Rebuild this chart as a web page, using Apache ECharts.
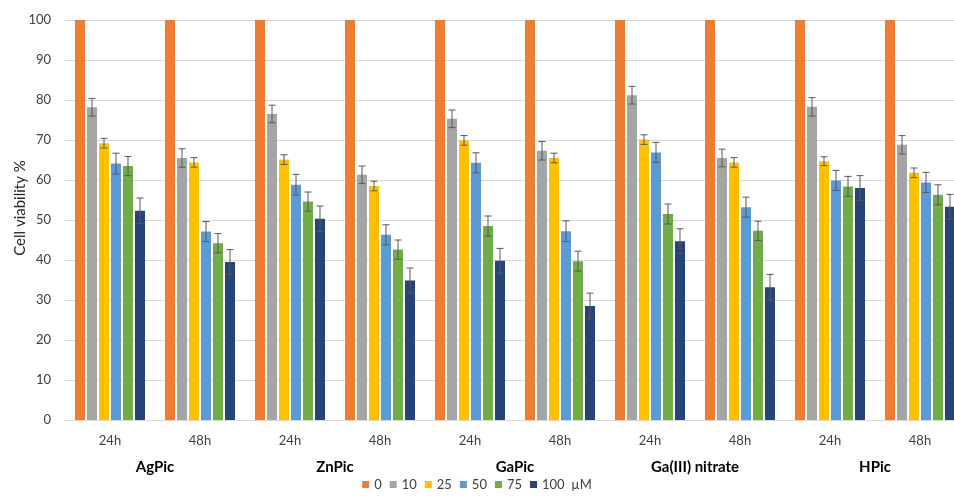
<!DOCTYPE html>
<html>
<head>
<meta charset="utf-8">
<script src="https://cdn.jsdelivr.net/npm/echarts@6/dist/echarts.min.js"></script>
<style>html,body{margin:0;padding:0;background:#fff}#c{width:954px;height:499px}</style>
</head>
<body>
<div id="c"></div>
<script>
// ---- data ----
const timeLabels = ['24h','48h','24h','48h','24h','48h','24h','48h','24h','48h'];
const compounds = ['AgPic','ZnPic','GaPic','Ga(III) nitrate','HPic'];
const seriesNames = ['0','10','25','50','75','100'];
const unitLabel = 'µM';
const yTicks = [0,10,20,30,40,50,60,70,80,90,100];

const v0   = [100,100,100,100,100,100,100,100,100,100];
const v10  = [78.2,65.5,76.5,61.3,75.3,67.3,81.2,65.5,78.3,68.8];
const v25  = [69.2,64.4,65.1,58.5,69.9,65.5,70.1,64.4,64.7,61.8];
const v50  = [64.1,47.1,58.8,46.3,64.3,47.2,66.9,53.2,59.9,59.4];
const v75  = [63.5,44.2,54.6,42.6,48.5,39.7,51.5,47.3,58.4,56.3];
const v100 = [52.3,39.5,50.3,34.9,39.8,28.5,44.7,33.2,58.0,53.3];

const e0   = [0,0,0,0,0,0,0,0,0,0];
const e10  = [2.2,2.3,2.2,2.2,2.2,2.3,2.2,2.2,2.3,2.3];
const e25  = [1.2,1.2,1.2,1.2,1.2,1.2,1.2,1.2,1.1,1.2];
const e50  = [2.6,2.5,2.6,2.5,2.5,2.6,2.5,2.5,2.5,2.5];
const e75  = [2.4,2.4,2.4,2.4,2.5,2.5,2.5,2.4,2.5,2.5];
const e100 = [3.2,3.1,3.2,3.1,3.1,3.2,3.1,3.2,3.1,3.1];

const values = [v0,v10,v25,v50,v75,v100];
const errors = [e0,e10,e25,e50,e75,e100];
const colors = ['#ED7D31','#A5A5A5','#FFC000','#5B9BD5','#70AD47','#264478'];

const FONT = 'Lato, "Open Sans", sans-serif';
const BAR_W = 10, BAR_GAP = 2;

const chart = echarts.init(document.getElementById('c'), null, {renderer:'canvas'});

const series = [];
seriesNames.forEach((n, s) => {
  series.push({
    name: n, type: 'bar', xAxisIndex: 0, yAxisIndex: 0,
    data: values[s], barWidth: BAR_W, barGap: (BAR_GAP / BAR_W * 100) + '%',
    itemStyle: {color: colors[s]}, z: 2
  });
});
seriesNames.forEach((n, s) => {
  const d = values[s].map((v, i) => [i, v, errors[s][i]]).filter(p => p[2] > 0);
  if (!d.length) return;
  series.push({
    type: 'custom', xAxisIndex: 0, yAxisIndex: 0, z: 5, silent: true,
    data: d,
    renderItem: function (params, api) {
      const c = api.coord([api.value(0), api.value(1)]);
      const x = c[0] + (s - (seriesNames.length - 1) / 2) * (BAR_W + BAR_GAP);
      const top = api.coord([api.value(0), api.value(1) + api.value(2)])[1];
      const bot = api.coord([api.value(0), api.value(1) - api.value(2)])[1];
      const st = {stroke: '#595959', lineWidth: 1};
      const cap = 3.5;
      return {type: 'group', children: [
        {type: 'line', shape: {x1: x, y1: top, x2: x, y2: bot}, style: st},
        {type: 'line', shape: {x1: x - cap, y1: top, x2: x + cap, y2: top}, style: st},
        {type: 'line', shape: {x1: x - cap, y1: bot, x2: x + cap, y2: bot}, style: st}
      ]};
    }
  });
});

chart.setOption({
  animation: false,
  textStyle: {fontFamily: FONT},
  grid: {left: 65, width: 900, top: 20, height: 400, containLabel: false, outerBoundsMode: 'none'},
  legend: {
    data: seriesNames, bottom: 3, left: 'center',
    itemWidth: 7, itemHeight: 7, itemGap: 8, icon: 'rect',
    textStyle: {fontSize: 13, color: '#404040', fontFamily: FONT},
    formatter: function (name) { return name === seriesNames[seriesNames.length - 1] ? name + '  ' + unitLabel : name; }
  },
  xAxis: [
    {
      type: 'category', data: timeLabels, position: 'bottom',
      axisLine: {lineStyle: {color: '#d9d9d9'}}, axisTick: {show: false},
      axisLabel: {color: '#404040', fontSize: 13, margin: 14, fontFamily: FONT}
    },
    {
      type: 'category', data: compounds, position: 'bottom', offset: 26,
      axisLine: {show: false}, axisTick: {show: false},
      axisLabel: {color: '#000', fontSize: 15, fontWeight: 'bold', margin: 14, fontFamily: FONT}
    }
  ],
  yAxis: {
    type: 'value', min: yTicks[0], max: yTicks[yTicks.length - 1], interval: yTicks[1] - yTicks[0],
    name: 'Cell viability %', nameLocation: 'middle', nameGap: 37, nameRotate: 90, nameMoveOverlap: false,
    nameTextStyle: {fontSize: 15, color: '#262626', fontFamily: FONT, padding: [0, 0, 0, 24]},
    axisLine: {show: false}, axisTick: {show: false},
    axisLabel: {color: '#404040', fontSize: 13, margin: 14, fontFamily: FONT},
    splitLine: {lineStyle: {color: '#d9d9d9'}}
  },
  series: series
});
</script>
</body>
</html>
